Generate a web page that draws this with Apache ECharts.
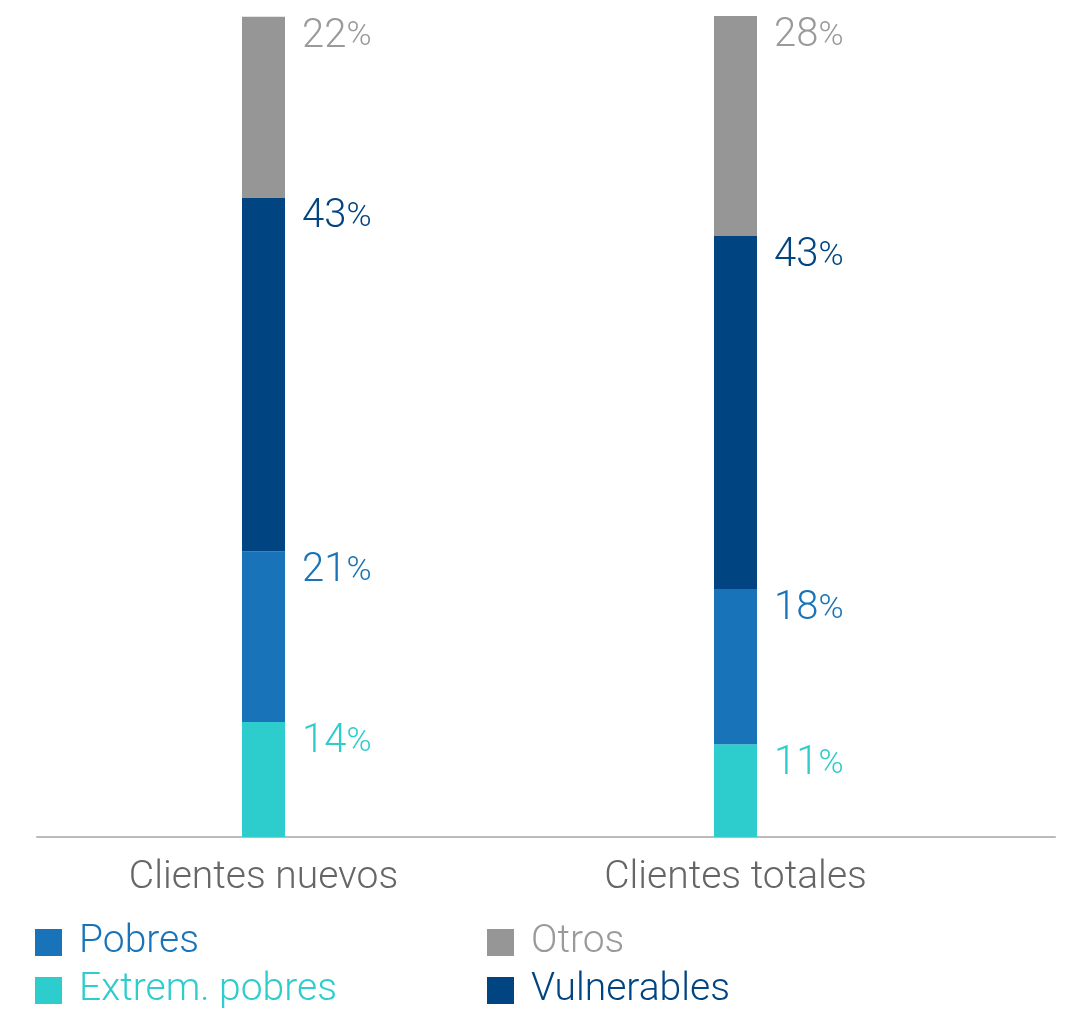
<!DOCTYPE html>
<html>
<head>
<meta charset="utf-8">
<script src="https://cdn.jsdelivr.net/npm/echarts@6/dist/echarts.min.js"></script>
<style>html,body{margin:0;padding:0;background:#fff}#c{width:1077px;height:1010px}</style>
</head>
<body>
<div id="c"></div>
<script>
const categories = ['Clientes nuevos', 'Clientes totales'];
const extremValues = [14, 11.3];
const pobresValues = [20.8, 18.9];
const vulnerablesValues = [43.1, 43.0];
const otrosValues = [22, 26.8];
const extremLabels = ['14', '11'];
const pobresLabels = ['21', '18'];
const vulnerablesLabels = ['43', '43'];
const otrosLabels = ['22', '28'];

const FONT = 'Roboto';
const C_EXT = '#2DCCCD', C_POB = '#1973B8', C_VUL = '#004481', C_OTR = '#969696', C_OTR_T = '#9a9a9a';

function mk(name, data, labels, color, textColor) {
  return {
    name, type: 'bar', stack: 'a', data, barWidth: 43,
    itemStyle: { color },
    label: {
      show: true, position: [60, 0], align: 'left', verticalAlign: 'top',
      formatter: p => '{n|' + labels[p.dataIndex] + '}{p|%}',
      rich: {
        n: { fontFamily: FONT, fontWeight: 300, fontSize: 40, color: textColor, lineHeight: 40 },
        p: { fontFamily: FONT, fontWeight: 300, fontSize: 34, color: textColor, lineHeight: 40 }
      }
    }
  };
}

function leg(name, color, left, top) {
  return {
    left, top, padding: 0, orient: 'vertical', itemWidth: 27, itemHeight: 27, icon: 'rect',
    textStyle: { fontFamily: FONT, fontWeight: 300, fontSize: 39, lineHeight: 27, padding: [6, 0, 0, 12], color },
    data: [{ name, textStyle: { color } }]
  };
}

const chart = echarts.init(document.getElementById('c'));
chart.setOption({
  animation: false,
  grid: [
    { left: 27.5, right: 105.5, top: 16, bottom: 173 },
    { left: 37, right: 22, top: 16, bottom: 173 }
  ],
  xAxis: [
    { type: 'category', data: categories, gridIndex: 0,
      axisLine: { show: false }, axisTick: { show: false },
      axisLabel: { fontFamily: FONT, fontWeight: 300, fontSize: 39, color: '#666', margin: 22 } },
    { type: 'value', gridIndex: 1, min: 0, max: 1,
      axisLine: { show: true, onZero: false, lineStyle: { color: '#bbbbbb', width: 2 } },
      axisTick: { show: false }, axisLabel: { show: false }, splitLine: { show: false } }
  ],
  yAxis: [
    { type: 'value', gridIndex: 0, min: 0, max: 100, show: false },
    { type: 'value', gridIndex: 1, min: 0, max: 1, show: false }
  ],
  legend: [
    leg('Pobres', C_POB, 35, 923),
    leg('Extrem. pobres', C_EXT, 35, 971),
    leg('Otros', C_OTR_T, 487, 923),
    leg('Vulnerables', C_VUL, 487, 971)
  ],
  series: [
    mk('Extrem. pobres', extremValues, extremLabels, C_EXT, C_EXT),
    mk('Pobres', pobresValues, pobresLabels, C_POB, C_POB),
    mk('Vulnerables', vulnerablesValues, vulnerablesLabels, C_VUL, C_VUL),
    mk('Otros', otrosValues, otrosLabels, C_OTR, C_OTR_T)
  ]
});
</script>
</body>
</html>
